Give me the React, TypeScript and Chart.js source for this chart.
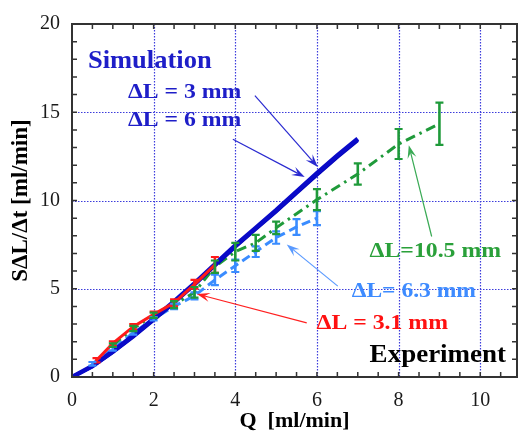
import React, { useEffect, useRef } from "react";
import { Chart, registerables } from "chart.js";

Chart.register(...registerables);

// ---- data ----
const simX = [0, 0.5, 1, 1.5, 2, 2.5, 3, 3.5, 4, 4.5, 5, 5.5, 6, 6.5, 7];
const sim3mm = [0, 0.62, 1.45, 2.35, 3.3, 4.28, 5.3, 6.38, 7.45, 8.45, 9.45, 10.5, 11.55, 12.55, 13.5];
const sim6mm = [0, 0.6, 1.4, 2.28, 3.22, 4.2, 5.22, 6.3, 7.37, 8.37, 9.37, 10.42, 11.45, 12.45, 13.4];

const exp31X = [0.6, 1, 1.5, 2, 2.5, 3, 3.5];
const exp31Y = [0.95, 1.9, 2.85, 3.55, 4.2, 5.25, 6.35];
const exp31Err = [0.12, 0.12, 0.15, 0.15, 0.2, 0.25, 0.45];

const exp63X = [0.5, 1, 1.5, 2, 2.5, 3, 3.5, 4, 4.5, 5, 5.5, 6];
const exp63Y = [0.75, 1.6, 2.5, 3.3, 4.0, 4.6, 5.5, 6.3, 7.1, 7.9, 8.5, 9.0];
const exp63Err = [0.1, 0.1, 0.1, 0.1, 0.15, 0.2, 0.3, 0.35, 0.3, 0.35, 0.45, 0.4];

const exp105X = [1, 1.5, 2, 2.5, 3, 3.5, 4, 4.5, 5, 6, 7, 8, 9];
const exp105Y = [1.8, 2.75, 3.5, 4.1, 4.8, 6.25, 7.1, 7.6, 8.45, 10.05, 11.5, 13.2, 14.35];
const exp105Err = [0.1, 0.15, 0.15, 0.2, 0.3, 0.35, 0.5, 0.45, 0.35, 0.6, 0.6, 0.85, 1.2];

const xTicks = [0, 2, 4, 6, 8, 10];
const yTicks = [0, 5, 10, 15, 20];
const xGrid = [2, 4, 6, 8, 10];
const yGrid = [5, 10, 15];
const xTitle = "Q  [ml/min]";
const yTitle = "SΔL/Δt [ml/min]";

// annotations (data coordinates)
const labels = [
  { text: "Simulation", x: 0.39, y: 17.85, color: "#1e1ec8", size: 25, stretch: 1.06 },
  { text: "ΔL = 3 mm", x: 1.37, y: 16.1, color: "#1e1ec8", size: 21, stretch: 1.13 },
  { text: "ΔL = 6 mm", x: 1.37, y: 14.55, color: "#1e1ec8", size: 21, stretch: 1.13 },
  { text: "ΔL=10.5 mm", x: 7.29, y: 7.1, color: "#2aa03a", size: 22, stretch: 1.08 },
  { text: "ΔL= 6.3 mm", x: 6.85, y: 4.87, color: "#3d8bff", size: 22, stretch: 1.07 },
  { text: "ΔL = 3.1 mm", x: 5.99, y: 3.02, color: "#ff1010", size: 22, stretch: 1.08 },
  { text: "Experiment", x: 7.29, y: 1.22, color: "#000000", size: 25, stretch: 1.08 },
];
const arrows = [
  { x1: 4.48, y1: 15.94, x2: 6.02, y2: 11.9, color: "#2a2ad0" },
  { x1: 3.94, y1: 13.47, x2: 5.7, y2: 11.33, color: "#2a2ad0" },
  { x1: 8.81, y1: 7.96, x2: 8.25, y2: 13.13, color: "#3aaa55" },
  { x1: 6.51, y1: 5.15, x2: 5.26, y2: 7.51, color: "#5a9aff" },
  { x1: 5.75, y1: 3.07, x2: 3.06, y2: 4.7, color: "#ff2020" },
];

const FONT = "'Liberation Serif', 'Times New Roman', serif";

function pts(xs: number[], ys: number[]) {
  return xs.map((x, i) => ({ x, y: ys[i] }));
}

const errorSets = [
  { xs: exp31X, ys: exp31Y, err: exp31Err, color: "#ff1a1a" },
  { xs: exp63X, ys: exp63Y, err: exp63Err, color: "#3a8cff" },
  { xs: exp105X, ys: exp105Y, err: exp105Err, color: "#1f9a3a" },
];

function drawArrow(ctx: CanvasRenderingContext2D, x1: number, y1: number, x2: number, y2: number, color: string) {
  const ang = Math.atan2(y2 - y1, x2 - x1);
  const c = Math.cos(ang), s = Math.sin(ang);
  const hl = 13, hw = 4.5;
  ctx.save();
  ctx.strokeStyle = color;
  ctx.fillStyle = color;
  ctx.lineWidth = 1.2;
  ctx.beginPath();
  ctx.moveTo(x1, y1);
  ctx.lineTo(x2 - c * hl * 0.6, y2 - s * hl * 0.6);
  ctx.stroke();
  ctx.beginPath();
  ctx.moveTo(x2, y2);
  ctx.lineTo(x2 - hl * c + hw * s, y2 - hl * s - hw * c);
  ctx.lineTo(x2 - hl * 0.6 * c, y2 - hl * 0.6 * s);
  ctx.lineTo(x2 - hl * c - hw * s, y2 - hl * s + hw * c);
  ctx.closePath();
  ctx.fill();
  ctx.restore();
}

const gridPlugin = {
  id: "customGrid",
  beforeDatasetsDraw(chart: any) {
    const { ctx, chartArea: a, scales } = chart;
    ctx.save();
    ctx.strokeStyle = "#3c3cdc";
    ctx.lineWidth = 1.2;
    ctx.setLineDash([1.5, 1.5]);
    xGrid.forEach((v) => {
      const px = Math.round(scales.x.getPixelForValue(v)) + 0.5;
      ctx.beginPath();
      ctx.moveTo(px, a.top);
      ctx.lineTo(px, a.bottom);
      ctx.stroke();
    });
    yGrid.forEach((v) => {
      const py = Math.round(scales.y.getPixelForValue(v)) + 0.5;
      ctx.beginPath();
      ctx.moveTo(a.left, py);
      ctx.lineTo(a.right, py);
      ctx.stroke();
    });
    ctx.restore();
  },
  afterDatasetsDraw(chart: any) {
    const { ctx, chartArea: a, scales } = chart;
    // error bars
    ctx.save();
    errorSets.forEach((set) => {
      ctx.strokeStyle = set.color;
      set.xs.forEach((x, i) => {
        const px = scales.x.getPixelForValue(x);
        const pt = scales.y.getPixelForValue(set.ys[i] + set.err[i]);
        const pb = scales.y.getPixelForValue(set.ys[i] - set.err[i]);
        ctx.lineWidth = 2.6;
        ctx.beginPath();
        ctx.moveTo(px, pt);
        ctx.lineTo(px, pb);
        ctx.stroke();
        ctx.lineWidth = 2.2;
        ctx.beginPath();
        ctx.moveTo(px - 4, pt);
        ctx.lineTo(px + 4, pt);
        ctx.moveTo(px - 4, pb);
        ctx.lineTo(px + 4, pb);
        ctx.stroke();
      });
    });
    ctx.restore();
    // frame and minor ticks
    ctx.save();
    ctx.strokeStyle = "#333333";
    ctx.lineWidth = 2;
    ctx.strokeRect(a.left, a.top, a.right - a.left, a.bottom - a.top);
    ctx.lineWidth = 1.5;
    ctx.beginPath();
    for (let v = 0.5; v < scales.x.max; v += 0.5) {
      const px = scales.x.getPixelForValue(v);
      ctx.moveTo(px, a.bottom);
      ctx.lineTo(px, a.bottom - 5);
      ctx.moveTo(px, a.top);
      ctx.lineTo(px, a.top + 5);
    }
    for (let v = 1; v < scales.y.max; v += 1) {
      const py = scales.y.getPixelForValue(v);
      ctx.moveTo(a.left, py);
      ctx.lineTo(a.left + 5, py);
      ctx.moveTo(a.right, py);
      ctx.lineTo(a.right - 5, py);
    }
    ctx.stroke();
    ctx.restore();
  },
  afterDraw(chart: any) {
    const { ctx, scales } = chart;
    arrows.forEach((ar) =>
      drawArrow(
        ctx,
        scales.x.getPixelForValue(ar.x1),
        scales.y.getPixelForValue(ar.y1),
        scales.x.getPixelForValue(ar.x2),
        scales.y.getPixelForValue(ar.y2),
        ar.color
      )
    );
    labels.forEach((l) => {
      ctx.save();
      ctx.textAlign = "left";
      ctx.textBaseline = "middle";
      ctx.font = `bold ${l.size}px ${FONT}`;
      ctx.fillStyle = l.color;
      ctx.translate(scales.x.getPixelForValue(l.x), scales.y.getPixelForValue(l.y));
      ctx.scale(l.stretch, 1);
      ctx.fillText(l.text, 0, 0);
      ctx.restore();
    });
  },
};

export default function App() {
  const ref = useRef<HTMLCanvasElement | null>(null);
  useEffect(() => {
    document.body.style.margin = "0";
    if (!ref.current) return;
    const tickFont = { family: FONT, size: 20 };
    const titleFont = { family: FONT, size: 22, weight: "bold" as const };
    const yTitleFont = { family: FONT, size: 23, weight: "bold" as const };
    const chart = new Chart(ref.current, {
      type: "line",
      data: {
        datasets: [
          { label: "ΔL = 3.1 mm", data: pts(exp31X, exp31Y), borderColor: "#ff1a1a", borderWidth: 3, pointRadius: 0, order: 0 },
          { label: "Sim ΔL = 3 mm", data: pts(simX, sim3mm), borderColor: "#0a0ac8", borderWidth: 4.5, pointRadius: 0, order: 1 },
          { label: "Sim ΔL = 6 mm", data: pts(simX, sim6mm), borderColor: "#0000b8", borderWidth: 3.5, pointRadius: 0, order: 1 },
          { label: "ΔL=10.5 mm", data: pts(exp105X, exp105Y), borderColor: "#1f9a3a", borderWidth: 3, borderDash: [10, 5, 2.5, 5], pointRadius: 0, order: 2 },
          { label: "ΔL= 6.3 mm", data: pts(exp63X, exp63Y), borderColor: "#3a8cff", borderWidth: 3, borderDash: [9, 5], pointRadius: 0, order: 3 },
        ],
      },
      options: {
        animation: false,
        responsive: false,
        maintainAspectRatio: false,
        layout: { padding: { top: 21, right: 1, left: 0, bottom: 0 } },
        plugins: { legend: { display: false }, tooltip: { enabled: false } },
        scales: {
          x: {
            type: "linear",
            min: 0,
            max: 10.9,
            afterFit: (s: any) => { s.height = 60; },
            afterBuildTicks: (s: any) => { s.ticks = xTicks.map((v) => ({ value: v })); },
            grid: { display: false, drawTicks: false },
            border: { display: false },
            ticks: { font: tickFont, color: "#1a1a1a", padding: 12, maxRotation: 0, autoSkip: false },
            title: { display: true, text: xTitle, font: titleFont, color: "#000", padding: { top: 0, bottom: 2 } },
          },
          y: {
            type: "linear",
            min: 0,
            max: 20,
            afterFit: (s: any) => { s.width = 72; },
            afterBuildTicks: (s: any) => { s.ticks = yTicks.map((v) => ({ value: v })); },
            grid: { display: false, drawTicks: false },
            border: { display: false },
            ticks: { font: tickFont, color: "#1a1a1a", padding: 12, autoSkip: false },
            title: { display: true, text: yTitle, font: yTitleFont, color: "#000", padding: { top: 7, bottom: 0 } },
          },
        },
      },
      plugins: [gridPlugin],
    } as any);
    return () => chart.destroy();
  }, []);
  return (
    <div style={{ position: "absolute", left: 0, top: 0, width: 518, height: 437, background: "#fff" }}>
      <canvas ref={ref} width={518} height={437} style={{ width: 518, height: 437 }} />
    </div>
  );
}
